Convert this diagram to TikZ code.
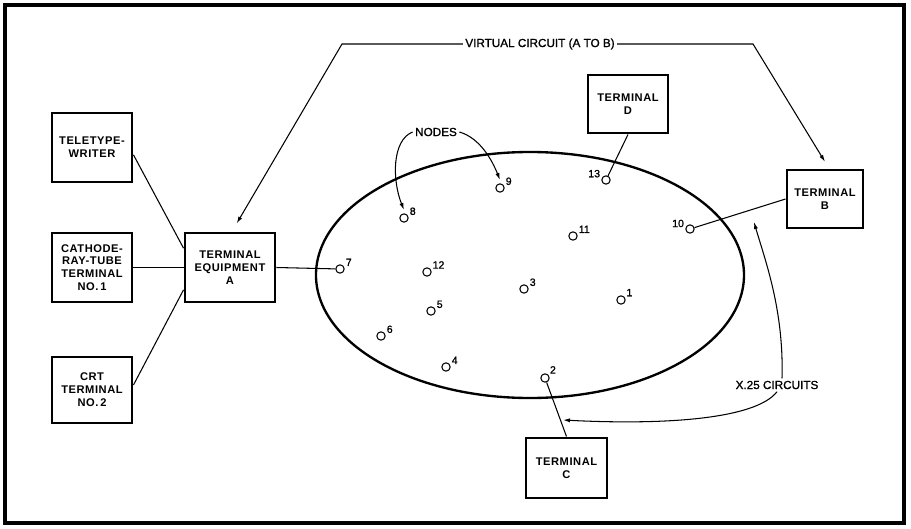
\documentclass[tikz,border=0pt]{standalone}
\usepackage{fontspec}
\setmainfont{Liberation Sans}
\newfontfamily\medfont[FakeBold=1.2]{Liberation Sans}
\newfontfamily\boxfont[LetterSpace=5]{Liberation Sans}
\usepackage{tikz}
\usetikzlibrary{arrows.meta,positioning}
\tikzset{
  termbox/.style={draw, line width=2.5pt, align=center,
                  minimum width=#1, minimum height=2.07cm,
                  font=\fontsize{9.5}{11}\boxfont\bfseries, inner sep=2pt},
  termbox/.default=2.4cm,
  pnode/.style  ={draw, circle, line width=0.9pt, inner sep=0pt,
                  minimum size=0.25cm},
  numlab/.style ={font=\fontsize{9}{10}\medfont, inner sep=1pt},
  lbl/.style    ={font=\fontsize{10}{12}\medfont, inner sep=2pt},
  arr/.style    ={-{Latex[length=6pt,width=3.5pt]}, line width=0.9pt},
  wire/.style   ={line width=0.9pt},
}

\begin{document}
\begin{tikzpicture}[x=0.03cm,y=-0.03cm]
  \useasboundingbox (0,0) rectangle (911,529);
  \draw[line width=2.7pt] (5,5) rectangle (904,523);
  % terminals
  \node[termbox] (tty)  at (92,147.5)  {TELETYPE-\\WRITER};
  \node[termbox] (crt1) at (92,267.5)  {CATHODE-\\RAY-TUBE\\TERMINAL\\NO.\,1};
  \node[termbox, minimum height=1.98cm] (crt2) at (92,390) {CRT\\TERMINAL\\NO.\,2};
  \node[termbox=2.7cm] (tea) at (230,267.5) {TERMINAL\\EQUIPMENT\\A};
  \node[termbox, minimum height=1.74cm] (td) at (628,104) {TERMINAL\\D};
  \node[termbox=2.28cm, minimum height=1.74cm] (tb) at (825,199) {TERMINAL\\B};
  \node[termbox=2.43cm, minimum height=1.8cm] (tc) at (566.5,468) {TERMINAL\\C};
  % network
  \draw[line width=2pt] (530,275) ellipse [x radius=6.42cm, y radius=3.69cm];
  \node[pnode, label={[numlab]30:1}]   (n1)  at (621,300) {};
  \node[pnode, label={[numlab]40:2}]   (n2)  at (545,378) {};
  \node[pnode, label={[numlab]20:3}]   (n3)  at (524,289) {};
  \node[pnode, label={[numlab]20:4}]   (n4)  at (446,367) {};
  \node[pnode, label={[numlab]20:5}]   (n5)  at (431,311) {};
  \node[pnode, label={[numlab]20:6}]   (n6)  at (381,336) {};
  \node[pnode, label={[numlab]20:7}]   (n7)  at (340,269) {};
  \node[pnode, label={[numlab]20:8}]   (n8)  at (404,218) {};
  \node[pnode, label={[numlab]20:9}]   (n9)  at (500,188) {};
  \node[pnode, label={[numlab]175:10}] (n10) at (690,229) {};
  \node[pnode, label={[numlab]20:11}]  (n11) at (573,236) {};
  \node[pnode, label={[numlab]25:12}]  (n12) at (427,272) {};
  \node[pnode, label={[numlab]165:13}] (n13) at (606,180) {};
  % links
  \draw[wire] ([yshift=-0.22cm]tty.east) -- ([yshift=0.58cm]tea.west);
  \draw[wire] (crt1.east) -- (tea.west);
  \draw[wire] ([yshift=0.15cm]crt2.east) -- ([yshift=-0.67cm]tea.west);
  \draw[wire] (tea.east) -- (n7);
  \draw[wire] (td.south) -- (n13);
  \draw[wire] (tb.west) -- (n10);
  \draw[wire] (tc.north) -- (n2);
  % labels
  \node[lbl] (vc)    at (540,44)  {VIRTUAL CIRCUIT (A TO B)};
  \node[lbl] (nodes) at (436,132) {NODES};
  \node[lbl] (x25)   at (777,385) {X.25 CIRCUITS};
  \coordinate (vcl) at (342,44);
  \coordinate (vcr) at (753,44);
  \coordinate (xb)  at (754,222);
  \coordinate (xc)  at (563,420);
  \draw[arr] (vc.west) -- (vcl) -- ([xshift=0.2cm,yshift=0.24cm]tea.north);
  \draw[arr] (vc.east) -- (vcr) -- ([yshift=0.2cm]tb.north);
  \draw[arr] (nodes.west) .. controls (392,140) and (392,180) .. ([yshift=0.1cm]n8.north);
  \draw[arr] (nodes.east) .. controls (480,138) and (492,160) .. ([yshift=0.1cm]n9.north);
  \draw[arr] ([xshift=0.15cm]x25.north) .. controls (784,310) and (765,260) .. (xb);
  \draw[arr] (x25.south) .. controls (755,420) and (660,425) .. (xc);
\end{tikzpicture}
\end{document}
